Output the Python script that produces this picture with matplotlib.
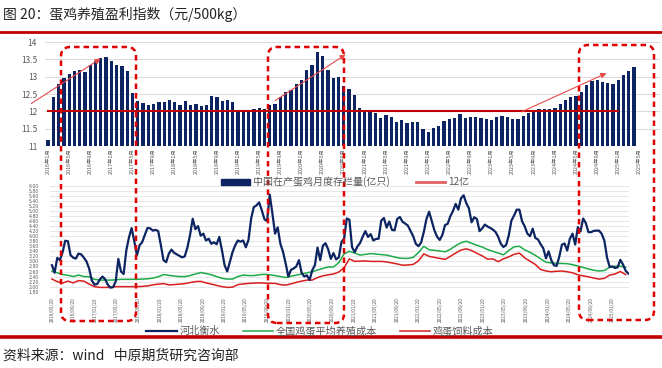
import numpy as np
import pandas as pd
import matplotlib
matplotlib.use("Agg")
import matplotlib.pyplot as plt
from matplotlib.lines import Line2D
from matplotlib.patches import Patch, FancyBboxPatch, FancyArrowPatch

plt.rcParams['font.family'] = ['Noto Sans CJK SC', 'DejaVu Sans']

# 中国在产蛋鸡月度存栏量(亿只), 2016年1月 - 2025年4月 (axis runs to 2025年5月)
hen_months = pd.date_range("2016-01-01", "2025-05-01", freq="MS")
hen_stock = [
    11.17, 12.40, 12.80, 12.95, 13.07, 13.15, 13.18, 13.13, 13.35, 13.45,
    13.55, 13.57, 13.45, 13.35, 13.32, 13.15, 12.53, 12.30, 12.25, 12.18,
    12.22, 12.27, 12.28, 12.32, 12.27, 12.18, 12.30, 12.18, 12.20, 12.15,
    12.18, 12.45, 12.42, 12.30, 12.33, 12.27, 12.00, 12.05, 12.05, 12.08,
    12.10, 12.08, 12.18, 12.22, 12.40, 12.57, 12.62, 12.80, 12.90, 13.18,
    13.35, 13.72, 13.60, 13.20, 12.97, 12.99, 12.73, 12.64, 12.47, 12.11,
    11.98, 12.03, 11.95, 11.82, 11.88, 11.83, 11.70, 11.76, 11.65, 11.68,
    11.70, 11.48, 11.40, 11.52, 11.57, 11.71, 11.78, 11.81, 11.92, 11.82,
    11.83, 11.83, 11.80, 11.77, 11.76, 11.83, 11.86, 11.85, 11.77, 11.77,
    11.86, 11.95, 12.02, 12.06, 12.06, 12.08, 12.10, 12.22, 12.32, 12.40,
    12.45, 12.55, 12.77, 12.88, 12.91, 12.86, 12.83, 12.80, 12.90, 13.05,
    13.17, 13.29,
]
line_12 = 12.0          # 12亿 reference line
line_12_months = 109    # drawn from 2016年1月 to 2025年1月

# 鸡蛋价格与成本 (元/斤)
hebei = [
    2.85, 2.55, 3.14, 3.05, 3.36, 3.82, 3.80, 3.25, 3.15, 3.11,
    3.31, 3.28, 3.15, 3.00, 2.72, 2.25, 2.08, 2.10, 2.28, 2.40,
    2.30, 2.08, 1.96, 1.98, 2.20, 3.10, 2.60, 2.50, 3.44, 3.95,
    4.32, 3.80, 3.24, 3.64, 3.77, 4.06, 4.33, 4.31, 4.22, 4.25,
    4.20, 3.65, 3.05, 2.97, 3.30, 3.47, 3.34, 3.28, 3.22, 3.16,
    3.20, 3.55, 4.05, 4.69, 4.28, 4.40, 4.02, 4.10, 3.83, 3.90,
    3.70, 3.76, 3.68, 3.97, 3.45, 2.85, 2.60, 2.98, 3.37, 3.64,
    3.83, 3.78, 3.83, 3.56, 3.85, 4.70, 5.15, 5.22, 5.34, 5.03,
    4.67, 4.60, 5.65, 4.90, 4.10, 4.35, 3.70, 3.38, 2.92, 2.40,
    2.67, 2.72, 2.80, 3.05, 2.55, 2.40, 2.45, 2.26, 2.65, 2.85,
    3.55, 3.05, 3.62, 3.72, 3.48, 3.10, 3.33, 3.08, 3.16, 3.77,
    3.90, 4.70, 4.65, 3.56, 3.37, 3.59, 3.73, 3.98, 4.20, 3.97,
    4.08, 3.83, 3.89, 3.90, 4.62, 4.72, 4.34, 4.58, 4.25, 4.23,
    4.68, 4.76, 4.57, 4.50, 4.42, 4.21, 4.00, 3.70, 3.60, 3.75,
    4.16, 4.68, 4.97, 4.60, 4.23, 3.98, 3.85, 4.05, 4.44, 4.49,
    4.79, 5.00, 5.28, 5.05, 5.50, 5.62, 5.31, 5.10, 4.55, 4.75,
    4.68, 4.20, 4.31, 4.46, 4.38, 4.33, 4.26, 4.17, 3.98, 3.70,
    3.57, 3.65, 4.03, 4.62, 4.82, 5.05, 5.05, 4.59, 4.39, 4.10,
    4.00, 4.30, 3.93, 3.87, 3.68, 3.52, 3.12, 3.40, 3.05, 2.85,
    2.82, 3.18, 3.66, 3.71, 3.43, 3.90, 4.10, 3.67, 4.36, 4.19,
    4.70, 4.52, 4.16, 4.16, 4.21, 4.22, 4.22, 4.09, 3.82, 3.15,
    2.78, 2.80, 2.74, 2.77, 3.06, 2.88, 2.63, 2.52,
]
avg_cost = [
    2.61, 2.55, 2.48, 2.45, 2.40, 2.46, 2.40, 2.39, 2.29, 2.26,
    2.26, 2.26, 2.27, 2.29, 2.29, 2.29, 2.29, 2.30, 2.31, 2.34,
    2.39, 2.48, 2.45, 2.42, 2.40, 2.40, 2.44, 2.50, 2.56, 2.52,
    2.47, 2.40, 2.33, 2.30, 2.30, 2.40, 2.46, 2.44, 2.44, 2.47,
    2.49, 2.47, 2.44, 2.40, 2.36, 2.41, 2.46, 2.50, 2.55, 2.59,
    2.66, 2.72, 2.78, 2.78, 2.95, 3.30, 3.40, 3.33, 3.25, 3.28,
    3.31, 3.29, 3.27, 3.25, 3.20, 3.15, 3.12, 3.12, 3.16, 3.35,
    3.60, 3.46, 3.44, 3.41, 3.38, 3.48, 3.62, 3.74, 3.80, 3.72,
    3.64, 3.57, 3.47, 3.40, 3.33, 3.26, 3.43, 3.58, 3.60, 3.46,
    3.36, 3.24, 3.10, 2.97, 2.94, 2.92, 2.92, 2.91, 2.87, 2.82,
    2.76, 2.70, 2.65, 2.62, 2.64, 2.77, 2.81, 2.81, 2.77,
]
feed_cost = [
    2.30, 2.20, 2.14, 2.22, 2.15, 2.24, 2.22, 2.10, 2.00, 1.97,
    1.97, 1.97, 2.00, 2.00, 2.00, 2.00, 2.00, 2.01, 2.03, 2.07,
    2.10, 2.12, 2.07, 2.08, 2.10, 2.12, 2.16, 2.20, 2.21, 2.15,
    2.10, 2.05, 2.00, 1.97, 1.98, 2.08, 2.11, 2.13, 2.14, 2.15,
    2.14, 2.13, 2.13, 2.08, 2.06, 2.11, 2.17, 2.22, 2.26, 2.26,
    2.36, 2.43, 2.47, 2.50, 2.58, 2.75, 3.10, 3.00, 3.01, 3.02,
    3.00, 3.00, 3.00, 2.98, 2.94, 2.90, 2.85, 2.86, 2.88, 3.02,
    3.30, 3.20, 3.16, 3.12, 3.08, 3.20, 3.33, 3.45, 3.50, 3.43,
    3.32, 3.22, 3.09, 3.10, 2.99, 3.10, 3.18, 3.28, 3.33, 3.14,
    3.01, 2.88, 2.68, 2.62, 2.59, 2.61, 2.62, 2.59, 2.55, 2.47,
    2.43, 2.39, 2.34, 2.30, 2.33, 2.46, 2.50, 2.60, 2.48,
]
hebei_dates = pd.date_range("2016-05-20", periods=len(hebei), freq="15D")
cost_dates = pd.date_range("2016-05-20", periods=len(avg_cost), freq="30D")
price_ticks = pd.date_range("2016-05-20", periods=27, freq=pd.DateOffset(months=4))

title = "图 20：蛋鸡养殖盈利指数（元/500kg）"
source = "资料来源：wind   中原期货研究咨询部"

navy = "#0c2461"
red = "#d81e1e"
green = "#1daa4a"
grey = "#595959"
W, H = 662, 368

fig = plt.figure(figsize=(W / 100, H / 100), dpi=100)

# ---------- top: 存栏量 bars ----------
ax1 = fig.add_axes([45.4 / W, 1 - 146 / H, 614.6 / W, 104 / H])
x = np.arange(len(hen_stock))
ax1.bar(x, hen_stock, width=0.62, color=navy, zorder=2, label="中国在产蛋鸡月度存栏量(亿只)")
ax1.plot(np.arange(line_12_months), [line_12] * line_12_months, color="#c00000", lw=1.5,
         zorder=3, label="12亿")
ax1.set_xlim(-0.5, 115.9)
ax1.set_ylim(11, 14)
ax1.set_yticks(np.arange(11, 14.01, 0.5))
ax1.set_yticklabels(["11", "11.5", "12", "12.5", "13", "13.5", "14"])
tick_idx = np.arange(0, len(hen_months), 4)
ax1.set_xticks(tick_idx)
ax1.set_xticklabels([f"{hen_months[i].year}年{hen_months[i].month}月" for i in tick_idx],
                    rotation=90)
ax1.tick_params(axis="x", labelsize=3.9, colors=grey, length=0, pad=1.5)
ax1.tick_params(axis="y", labelsize=6, colors=grey, length=0, pad=6)
ax1.grid(axis="y", color="#d9d9d9", lw=0.7, zorder=0)
for s in ax1.spines.values():
    s.set_visible(False)

h1 = [Patch(color=navy), Line2D([], [], color="#e06060", lw=2)]
fig.legend(h1, ["中国在产蛋鸡月度存栏量(亿只)", "12亿"], loc="center",
           bbox_to_anchor=(345 / W, 1 - 182 / H), ncol=2, frameon=False, fontsize=7.2,
           handlelength=2.9, handleheight=0.6, columnspacing=2.6, handletextpad=0.3,
           labelcolor=grey, borderaxespad=0, borderpad=0)

# ---------- bottom: price & cost lines ----------
ax2 = fig.add_axes([50 / W, 1 - 291.7 / H, 579 / W, 106 / H])
ax2.plot(hebei_dates, hebei, color=navy, lw=1.6, label="河北衡水", zorder=3)
ax2.plot(cost_dates, avg_cost, color=green, lw=1.1, label="全国鸡蛋平均养殖成本", zorder=2)
ax2.plot(cost_dates, feed_cost, color=red, lw=1.1, label="鸡蛋饲料成本", zorder=2)
ax2.set_xlim(pd.Timestamp("2016-05-09"), pd.Timestamp("2025-04-22"))
ax2.set_ylim(1.8, 6.0)
ax2.set_yticks(np.arange(1.8, 6.001, 0.2))
ax2.set_yticklabels([f"{v:.2f}" for v in np.arange(1.8, 6.001, 0.2)])
ax2.set_xticks(price_ticks)
ax2.set_xticklabels([d.strftime("%Y/%m/%d") for d in price_ticks], rotation=90)
ax2.tick_params(axis="x", labelsize=3.4, colors=grey, length=0, pad=4)
ax2.tick_params(axis="y", labelsize=3.3, colors=grey, length=0, pad=8)
for lab in ax2.get_yticklabels():
    lab.set_fontfamily("DejaVu Sans")
ax2.grid(axis="y", color="#e3e3e3", lw=0.6, zorder=0)
for s in ax2.spines.values():
    s.set_visible(False)

fig.legend(*ax2.get_legend_handles_labels(), loc="center",
           bbox_to_anchor=(320 / W, 1 - 331 / H), ncol=3, frameon=False, fontsize=7.3,
           handlelength=3.0, columnspacing=2.2, handletextpad=0.3, labelcolor=grey,
           borderaxespad=0, borderpad=0)

# ---------- frame texts and rules ----------
fig.text(3 / W, 1 - 14 / H, title, fontsize=10, va="center", ha="left", color="#222222")
fig.text(3 / W, 1 - 356 / H, source, fontsize=10, va="center", ha="left", color="#222222")
fig.add_artist(Line2D([0, 1], [1 - 31.5 / H] * 2, transform=fig.transFigure,
                      color="#c00000", lw=2))
fig.add_artist(Line2D([0, 1], [1 - 337 / H] * 2, transform=fig.transFigure,
                      color="#c00000", lw=2.6))

# ---------- red dashed highlight boxes and trend arrows (pixel layout) ----------
boxes_px = [(61, 47, 136, 321), (268, 47, 344, 323), (579, 45, 654, 320)]
for x0, y0, x1, y1 in boxes_px:
    fig.add_artist(FancyBboxPatch((x0 / 100, (H - y1) / 100), (x1 - x0) / 100, (y1 - y0) / 100,
                                  boxstyle="round,pad=0,rounding_size=0.09",
                                  transform=fig.dpi_scale_trans, fill=False,
                                  ec="#e00000", lw=1.8, ls=(0, (2.2, 1.6))))

arrows_px = [((29, 105), (103, 57)), ((273, 102), (348, 53)), ((519, 113), (609, 72))]
for (xa, ya), (xb, yb) in arrows_px:
    fig.add_artist(FancyArrowPatch((xa / 100, (H - ya) / 100), (xb / 100, (H - yb) / 100),
                                   transform=fig.dpi_scale_trans, arrowstyle="-|>",
                                   mutation_scale=8, color="#e84a4a", lw=0.8))

fig.savefig("out.png", dpi=100)
